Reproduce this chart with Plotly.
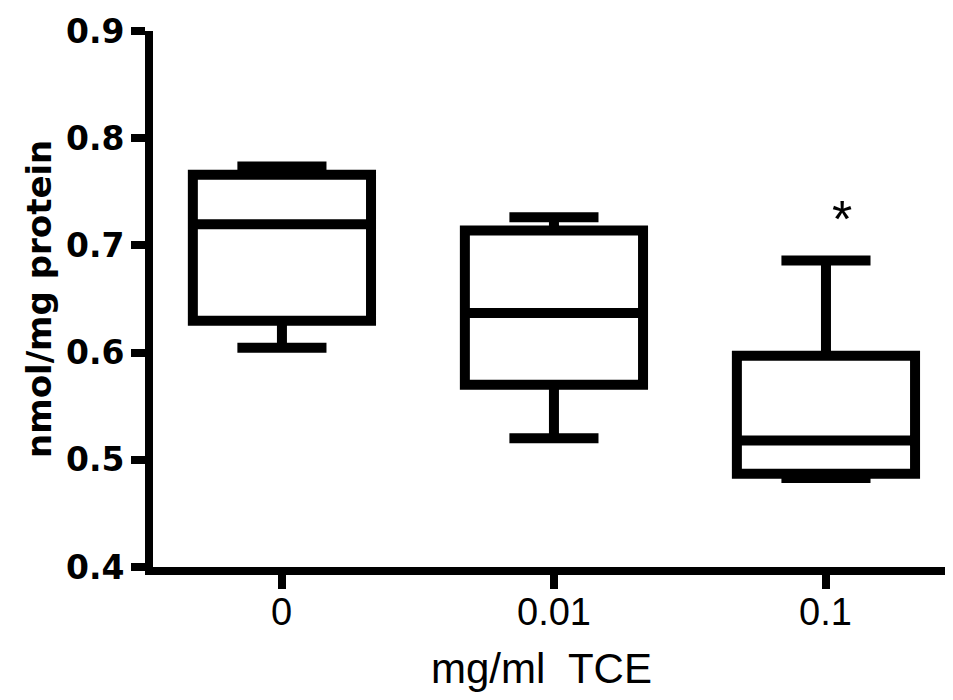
import plotly.graph_objects as go

categories = ["0", "0.01", "0.1"]
upper = [0.7736, 0.7262, 0.686]
q3 = [0.766, 0.714, 0.597]
median = [0.7197, 0.637, 0.518]
q1 = [0.6296, 0.570, 0.487]
lower = [0.6045, 0.520, 0.483]
y_ticks = [0.4, 0.5, 0.6, 0.7, 0.8, 0.9]
x_title = "mg/ml  TCE"
y_title = "nmol/mg protein"
star_label = "*"
star_category = 2
star_y = 0.734

fig = go.Figure()
fig.add_trace(go.Box(
    x=[0, 1, 2],
    q1=q1, median=median, q3=q3,
    lowerfence=lower, upperfence=upper,
    width=0.655,
    whiskerwidth=0.5,
    fillcolor="rgba(255,255,255,0)",
    line=dict(color="black", width=10),
    boxpoints=False,
    hoverinfo="skip",
    showlegend=False,
))

# category labels under the x axis
for i, lab in enumerate(categories):
    fig.add_annotation(
        x=i, y=0.4, xref="x", yref="y", text=lab, showarrow=False,
        yanchor="middle", yshift=-45,
        font=dict(family="Liberation Sans", size=38, color="black"),
    )

fig.add_annotation(
    x=star_category, y=star_y, text=star_label, showarrow=False,
    xshift=16, yshift=-10,
    font=dict(family="Liberation Sans", size=52, color="black"),
    yanchor="middle",
)
fig.add_annotation(
    xref="paper", yref="paper", x=0.5, y=0, text=x_title, showarrow=False,
    yanchor="middle", yshift=-101, xshift=-12,
    font=dict(family="Liberation Sans", size=42, color="black"),
)
fig.add_annotation(
    xref="paper", yref="paper", x=0, y=0.5, text=y_title, showarrow=False,
    textangle=-90, xanchor="center", xshift=-114,
    font=dict(family="DejaVu Sans", size=34, color="black", weight="bold"),
)

fig.update_layout(
    width=953, height=700,
    margin=dict(l=145, r=8, t=23, b=141, autoexpand=False),
    plot_bgcolor="white", paper_bgcolor="white",
    xaxis=dict(
        range=[-0.474, 2.467], automargin=False,
        tickmode="array", tickvals=[0, 1, 2], ticktext=["", "", ""],
        showline=True, linecolor="black", linewidth=8,
        ticks="outside", ticklen=14, tickwidth=8, tickcolor="black",
        showgrid=False, zeroline=False,
    ),
    yaxis=dict(
        range=[0.4, 0.9], automargin=False,
        tickmode="array", tickvals=y_ticks, ticktext=[f"{v:.1f}" for v in y_ticks],
        showline=True, linecolor="black", linewidth=8,
        ticks="outside", ticklen=14, tickwidth=8, tickcolor="black",
        showgrid=False, zeroline=False,
        tickfont=dict(family="DejaVu Sans", size=33, color="black", weight="bold"),
    ),
)

fig.write_html("out.html")
